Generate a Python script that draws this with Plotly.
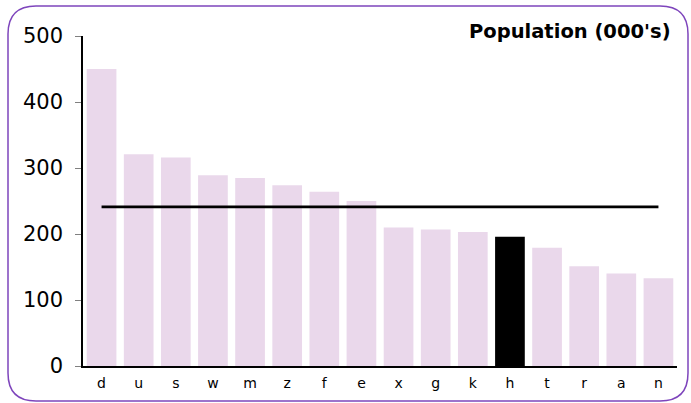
import plotly.graph_objects as go

categories = ["d", "u", "s", "w", "m", "z", "f", "e", "x", "g", "k", "h", "t", "r", "a", "n"]
population = [450, 321, 316, 289, 285, 274, 264, 250, 210, 207, 203, 196, 179, 151, 140, 133]
highlight = "h"
average = [241] * len(categories)
y_ticks = [0, 100, 200, 300, 400, 500]

W, H = 691, 403
L, R, T, B = 83, 14, 36, 37
pw, ph = W - L - R, H - T - B

bar_colors = ["#000000" if c == highlight else "#EAD8EB" for c in categories]

fig = go.Figure()
fig.add_trace(go.Bar(x=categories, y=population, marker=dict(color=bar_colors, line=dict(width=0)),
                     showlegend=False))
fig.add_trace(go.Scatter(x=categories, y=average, mode="lines", line=dict(color="black", width=2.8),
                         showlegend=False))

def px(x):
    return (x - L) / pw

def py(y):
    return (H - B - y) / ph

# rounded border
x0, y0, x1, y1, r = 8, 6, 688, 401, 28
path = (f"M {px(x0+r)},{py(y0)} L {px(x1-r)},{py(y0)} Q {px(x1)},{py(y0)} {px(x1)},{py(y0+r)} "
        f"L {px(x1)},{py(y1-r)} Q {px(x1)},{py(y1)} {px(x1-r)},{py(y1)} "
        f"L {px(x0+r)},{py(y1)} Q {px(x0)},{py(y1)} {px(x0)},{py(y1-r)} "
        f"L {px(x0)},{py(y0+r)} Q {px(x0)},{py(y0)} {px(x0+r)},{py(y0)} Z")
fig.add_shape(type="path", path=path, xref="paper", yref="paper",
              line=dict(color="#7E45BC", width=1.5), fillcolor="rgba(0,0,0,0)", layer="below")

fig.add_annotation(text="<b>Population (000's)</b>", xref="paper", yref="paper",
                   x=px(673), y=py(32), xanchor="right", yanchor="middle", showarrow=False,
                   font=dict(family="DejaVu Sans", size=19.5, color="black"))

fig.update_layout(
    width=W, height=H,
    margin=dict(l=L, r=R, t=T, b=B),
    paper_bgcolor="white", plot_bgcolor="white",
    bargap=0.2,
    font=dict(family="DejaVu Sans", color="black"),
)
fig.update_xaxes(showline=True, linecolor="black", linewidth=1.5, ticks="", showgrid=False,
                 tickfont=dict(size=14), ticklabelstandoff=3)
fig.update_yaxes(range=[0, 500], tickvals=y_ticks, showline=True, linecolor="black", linewidth=1.5,
                 ticks="outside", ticklen=6, tickcolor="#808080", showgrid=False, zeroline=False,
                 tickfont=dict(size=21), ticklabelstandoff=8)

fig.write_html("out.html", config={"displayModeBar": False},
               post_script="document.body.style.margin='0px';")
